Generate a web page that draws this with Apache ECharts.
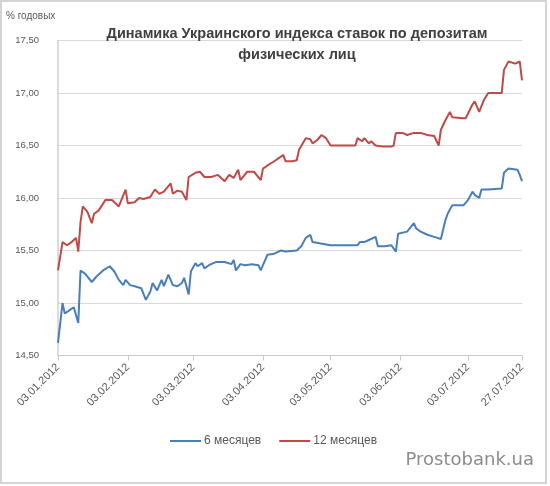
<!DOCTYPE html>
<html><head><meta charset="utf-8">
<script src="https://cdn.jsdelivr.net/npm/echarts@6/dist/echarts.min.js"></script>
<style>html,body{margin:0;padding:0;background:#fff}#c{width:550px;height:486px}</style>
</head><body><div id="c"></div>
<script>
const titleText = 'Динамика Украинского индекса ставок по депозитам\nфизических лиц';
const yAxisTitle = '% годовых';
const seriesNames = ['6 месяцев', '12 месяцев'];
const tickDates = ['2012-01-03','2012-02-03','2012-03-03','2012-04-03','2012-05-03','2012-06-03','2012-07-03','2012-07-27'];
const yTicks = [14.5, 15, 15.5, 16, 16.5, 17, 17.5];

const sixDates = [
 '2012-01-03','2012-01-05','2012-01-06','2012-01-08','2012-01-10','2012-01-12','2012-01-13','2012-01-15','2012-01-18','2012-01-20',
 '2012-01-23','2012-01-26','2012-01-28','2012-01-30','2012-02-01','2012-02-02','2012-02-04','2012-02-06','2012-02-09','2012-02-11',
 '2012-02-13','2012-02-14','2012-02-16','2012-02-18','2012-02-19','2012-02-21','2012-02-23','2012-02-25','2012-02-27','2012-02-28',
 '2012-03-01','2012-03-02','2012-03-04','2012-03-05','2012-03-07','2012-03-08','2012-03-10','2012-03-13','2012-03-17','2012-03-20',
 '2012-03-21','2012-03-22','2012-03-24','2012-03-26','2012-03-29','2012-04-01','2012-04-02','2012-04-04','2012-04-05','2012-04-08',
 '2012-04-11','2012-04-13','2012-04-18','2012-04-20','2012-04-22','2012-04-24','2012-04-25','2012-04-28','2012-05-03','2012-05-10',
 '2012-05-15','2012-05-16','2012-05-18','2012-05-20','2012-05-23','2012-05-24','2012-05-27','2012-05-30','2012-06-01','2012-06-02',
 '2012-06-06','2012-06-09','2012-06-10','2012-06-12','2012-06-15','2012-06-18','2012-06-21','2012-06-23','2012-06-24','2012-06-26',
 '2012-07-01','2012-07-03','2012-07-05','2012-07-06','2012-07-08','2012-07-09','2012-07-12','2012-07-18','2012-07-19','2012-07-21',
 '2012-07-25','2012-07-26','2012-07-27'];
const sixValues = [
 14.62,15.00,14.90,14.93,14.96,14.81,15.31,15.28,15.20,15.25,
 15.31,15.35,15.30,15.22,15.17,15.22,15.17,15.16,15.14,15.03,
 15.11,15.19,15.12,15.22,15.16,15.27,15.17,15.16,15.19,15.24,
 15.08,15.30,15.38,15.35,15.38,15.33,15.36,15.39,15.39,15.37,
 15.41,15.31,15.37,15.36,15.37,15.36,15.31,15.41,15.46,15.47,
 15.50,15.49,15.50,15.54,15.62,15.65,15.58,15.57,15.55,15.55,
 15.55,15.58,15.58,15.60,15.63,15.54,15.54,15.55,15.49,15.66,
 15.68,15.76,15.71,15.68,15.65,15.63,15.61,15.79,15.85,15.93,
 15.93,15.98,16.06,16.03,16.00,16.08,16.08,16.09,16.24,16.28,
 16.27,16.22,16.16];

const twelveDates = [
 '2012-01-03','2012-01-05','2012-01-07','2012-01-09','2012-01-11','2012-01-12','2012-01-13','2012-01-14','2012-01-16','2012-01-18',
 '2012-01-19','2012-01-21','2012-01-24','2012-01-27','2012-01-30','2012-02-02','2012-02-03','2012-02-06','2012-02-08','2012-02-10',
 '2012-02-13','2012-02-15','2012-02-17','2012-02-19','2012-02-22','2012-02-23','2012-02-25','2012-02-27','2012-02-29','2012-03-01',
 '2012-03-04','2012-03-06','2012-03-08','2012-03-11','2012-03-14','2012-03-17','2012-03-19','2012-03-21','2012-03-23','2012-03-24',
 '2012-03-27','2012-03-30','2012-04-02','2012-04-03','2012-04-05','2012-04-08','2012-04-10','2012-04-12','2012-04-13','2012-04-16',
 '2012-04-18','2012-04-19','2012-04-22','2012-04-24','2012-04-25','2012-04-27','2012-04-29','2012-05-01','2012-05-03','2012-05-10',
 '2012-05-14','2012-05-15','2012-05-17','2012-05-18','2012-05-20','2012-05-21','2012-05-23','2012-05-26','2012-05-30','2012-05-31',
 '2012-06-01','2012-06-04','2012-06-06','2012-06-09','2012-06-12','2012-06-15','2012-06-18','2012-06-20','2012-06-21','2012-06-23',
 '2012-06-25','2012-06-26','2012-07-01','2012-07-02','2012-07-05','2012-07-06','2012-07-08','2012-07-10','2012-07-12','2012-07-18',
 '2012-07-19','2012-07-21','2012-07-24','2012-07-26','2012-07-27'];
const twelveValues = [
 15.31,15.58,15.55,15.58,15.62,15.49,15.77,15.92,15.87,15.76,
 15.85,15.88,15.98,15.98,15.92,16.08,15.95,15.96,16.00,15.99,
 16.01,16.08,16.04,16.06,16.14,16.04,16.07,16.06,15.98,16.20,
 16.24,16.25,16.20,16.20,16.22,16.16,16.22,16.19,16.27,16.17,
 16.25,16.25,16.17,16.28,16.31,16.35,16.38,16.41,16.35,16.35,
 16.36,16.46,16.57,16.56,16.52,16.55,16.60,16.57,16.50,16.50,
 16.50,16.57,16.54,16.57,16.52,16.54,16.50,16.49,16.49,16.50,
 16.62,16.62,16.60,16.62,16.62,16.60,16.59,16.50,16.65,16.74,
 16.82,16.77,16.76,16.76,16.89,16.92,16.82,16.93,17.00,17.00,
 17.22,17.30,17.28,17.30,17.12];

function ts(s){const p=s.split('-');return Date.UTC(+p[0],+p[1]-1,+p[2]);}
function pad(n){return (n<10?'0':'')+n;}
function fmtDate(v){const d=new Date(v);return pad(d.getUTCDate())+'.'+pad(d.getUTCMonth()+1)+'.'+d.getUTCFullYear();}
const tickTs = tickDates.map(ts);

const chart = echarts.init(document.getElementById('c'), null, {renderer:'canvas'});
chart.setOption({
  animation:false,
  backgroundColor:'#ffffff',
  title:{
    text:titleText, left:292, top:18, textAlign:'center',
    textStyle:{fontFamily:'Liberation Sans', fontSize:14.5, fontWeight:'bold', color:'#404040', lineHeight:21}
  },
  grid:{left:58, right:28, top:40.5, bottom:130.5, containLabel:false},
  legend:{
    top:430, left:165, icon:'rect', itemWidth:31, itemHeight:2, itemGap:18,
    textStyle:{fontFamily:'Liberation Sans', fontSize:12, color:'#595959', padding:[0,0,0,-2]},
    data:seriesNames
  },
  xAxis:{
    type:'value', min:tickTs[0], max:tickTs[tickTs.length-1],
    axisLine:{show:true, lineStyle:{color:'#c8c8c8', width:1}},
    axisTick:{show:true, length:5, lineStyle:{color:'#c8c8c8'}, customValues:tickTs},
    splitLine:{show:false},
    axisLabel:{customValues:tickTs, rotate:45, margin:10, fontFamily:'Liberation Sans', fontSize:11, color:'#595959',
      formatter:function(v){return fmtDate(v);}}
  },
  yAxis:{
    type:'value', min:yTicks[0], max:yTicks[yTicks.length-1], interval:0.5,
    axisLine:{show:true, lineStyle:{color:'#d0d0d0', width:1.5}},
    axisTick:{show:false},
    splitLine:{show:true, lineStyle:{color:'#d9d9d9', width:1}},
    axisLabel:{margin:19, fontFamily:'Liberation Sans', fontSize:9.5, color:'#595959',
      formatter:function(v){return v.toFixed(2).replace('.',',');}}
  },
  series:[
    {name:seriesNames[0], type:'line', symbol:'none', color:'#4a7ebb', lineStyle:{width:2, color:'#4a7ebb'},
     data:sixDates.map((d,i)=>[ts(d), sixValues[i]])},
    {name:seriesNames[1], type:'line', symbol:'none', color:'#be4b48', lineStyle:{width:2, color:'#be4b48'},
     data:twelveDates.map((d,i)=>[ts(d), twelveValues[i]])}
  ],
  graphic:[
    {type:'rect', shape:{x:1, y:1, width:545, height:482}, style:{fill:'none', stroke:'#d4d4d4', lineWidth:2}, silent:true},
    {type:'text', left:6, top:11, style:{text:yAxisTitle, font:'10px "Liberation Sans"', fill:'#595959'}},
    {type:'text', right:16, top:451, style:{text:'Prostobank.ua', font:'18px "DejaVu Sans"', fill:'#8c8c8c'}}
  ]
});
</script></body></html>
